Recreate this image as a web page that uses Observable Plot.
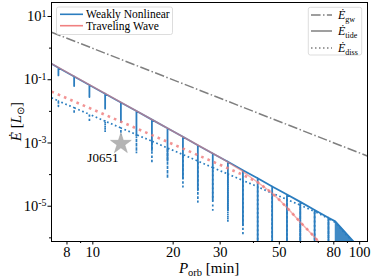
<!DOCTYPE html>
<html>
<head>
<meta charset="utf-8">
<script src="https://cdn.jsdelivr.net/npm/d3@7"></script>
<script src="https://cdn.jsdelivr.net/npm/@observablehq/plot@0.6"></script>
<style>
html,body{margin:0;padding:0;background:#fff;}
#chart svg{display:block;}
</style>
</head>
<body>
<div id="chart"></div>
<script>
// ---------------- data ----------------
const xMajorTicks = [8, 10, 20, 30, 50, 80, 100];
const xMinorTicks = [9, 40, 60, 70, 90];
const yMajorTicks = [1e1, 1e-1, 1e-3, 1e-5];
const yMinorTicks = [1e0, 1e-2, 1e-4, 1e-6];

// resonance periods [min] of the weakly nonlinear model
const resP = [7.43, 8.51, 9.71, 11.12, 12.74, 14.57, 16.65, 19.05, 21.76, 24.75,
              28.15, 32.07, 36.52, 41.48, 47.0, 53.4, 59.9, 67.8, 76.4];
// weakly nonlinear tidal power: value beside each resonance and bottom of its dip
const wnTideTop = [0.238, 0.1265, 0.0682, 0.0362, 0.0191, 0.01023, 5.47e-3, 2.91e-3, 1.567e-3, 8.51e-4,
                   4.66e-4, 2.55e-4, 1.37e-4, 7.67e-5, 4.23e-5, 2.34e-5, 1.37e-5, 7.65e-6, 4.34e-6];
const wnTideDip = [0.137, 0.063, 0.0283, 0.0122, 4.6e-3, 1.75e-3, 5.9e-4, 2.8e-4, 7.7e-5, 3.2e-5,
                   1.55e-5, 7.5e-6, 2.5e-6, 1e-8, 1e-8, 1e-8, 1e-8, 1e-8, 1e-8];
// weakly nonlinear dissipation: value beside each resonance and bottom of its dip
const wnDissTop = [0.0213, 0.0130, 8.05e-3, 4.91e-3, 2.99e-3, 1.84e-3, 1.14e-3, 6.93e-4, 4.30e-4, 2.68e-4,
                   1.67e-4, 1.04e-4, 6.53e-5, 4.13e-5, 2.59e-5, 1.64e-5, 1.08e-5, 6.86e-6, 4.1e-6];
const wnDissDip = [0.0144, 8.5e-3, 4.6e-3, 2.2e-3, 9.1e-4, 4.7e-4, 2.3e-4, 7.7e-5, 4.1e-5, 1.37e-5,
                   6.6e-6, 3.2e-6, 1.2e-6, 1e-8, 1e-8, 1e-8, 1e-8, 1e-8, 1e-8];
// non-resonant points of the weakly nonlinear curves
const wnTideP = [7.0, 81, 95, 98];
const wnTideE = [0.322, 3.32e-6, 7.5e-7, 4e-7];
const wnDissP = [7.0, 81, 88, 95];
const wnDissE = [0.0269, 3.1e-6, 1.4e-6, 7e-7];
// dense band of resonances at long period
const bandP = [81, 88, 95];
const bandTop = [3.32e-6, 1.6e-6, 7.5e-7];
const bandBottom = [1e-8, 1e-8, 1e-8];
// traveling wave model
const twTideP = [7.0, 30, 36, 41.2, 46.3, 50.4, 55.0, 59.9, 65.4, 70.1, 74.5];
const twTideE = [0.322, 3.48e-4, 1.37e-4, 5.94e-5, 2.87e-5, 1.49e-5, 6.97e-6, 3.13e-6, 1.46e-6, 7.7e-7, 4.7e-7];
const twDissP = [7.0, 20, 35.6, 41.2, 46.3, 50.4, 55.0, 59.9, 65.4, 70.1, 74.5];
const twDissE = [0.0422, 9.1e-4, 1.08e-4, 5.94e-5, 2.87e-5, 1.49e-5, 6.97e-6, 3.13e-6, 1.46e-6, 7.7e-7, 4.7e-7];
// gravitational-wave power
const gwP = [7, 107];
const gwE = [3.19, 3.86e-4];
// J0651
const starP = [12.74];
const starE = [9.5e-4];
const starName = ["J0651"];

// ---------------- build tables ----------------
const BLUE = "#2b7dbf", RED = "#f08080", GRAY = "#7f7f7f";
const FONT = "Liberation Serif, serif";

function pts(P, E) { return P.map((p, i) => ({P: p, E: E[i]})); }
function withDips(P, E, tops, dips) {
  const a = P.map((p, i) => ({P: p, E: E[i], o: 0}));
  resP.forEach((p, i) => {
    a.push({P: p, E: tops[i], o: 0}, {P: p, E: dips[i], o: 1}, {P: p, E: tops[i], o: 2});
  });
  a.sort((u, v) => (u.P - v.P) || (u.o - v.o));
  return a;
}
const wnTide = withDips(wnTideP, wnTideE, wnTideTop, wnTideDip);
const wnDiss = withDips(wnDissP, wnDissE, wnDissTop, wnDissDip);
const band = bandP.map((p, i) => ({P: p, y1: bandBottom[i], y2: bandTop[i]}));
const twTide = pts(twTideP, twTideE);
const twDiss = pts(twDissP, twDissE);
const gw = pts(gwP, gwE);
const star = starP.map((p, i) => ({P: p, E: starE[i], name: starName[i]}));

const chart = Plot.plot({
  width: 374, height: 278,
  marginLeft: 51, marginRight: 7, marginTop: 2, marginBottom: 37,
  style: {fontFamily: FONT, background: "white", color: "black", overflow: "visible"},
  x: {type: "log", domain: [7, 107]},
  y: {type: "log", domain: [7.67e-7, 27.7]},
  marks: [
    Plot.areaY(band, {x: "P", y1: "y1", y2: "y2", fill: BLUE, fillOpacity: 0.9, clip: true}),
    Plot.line(wnTide, {x: "P", y: "E", stroke: BLUE, strokeWidth: 1.8, clip: true}),
    Plot.line(wnDiss, {x: "P", y: "E", stroke: BLUE, strokeWidth: 1.7, strokeDasharray: "1.7,2.6", strokeLinecap: "butt", clip: true}),
    Plot.line(twTide, {x: "P", y: "E", stroke: RED, strokeWidth: 1.5, strokeOpacity: 0.62, clip: true}),
    Plot.line(twDiss, {x: "P", y: "E", stroke: RED, strokeWidth: 2.6, strokeOpacity: 0.85, strokeDasharray: "2.6,4.2", strokeLinecap: "butt", clip: true}),
    Plot.line(gw, {x: "P", y: "E", stroke: GRAY, strokeWidth: 1.5, strokeDasharray: "9.6,2.4,1.5,2.4", strokeLinecap: "butt", clip: true}),
    Plot.dot(star, {x: "P", y: "E", symbol: "star", r: 6.5, fill: "#b4b4b4", stroke: "#a8a8a8", strokeWidth: 0.6}),
    Plot.text(star, {x: "P", y: "E", text: "name", dx: -18, dy: 14, fontSize: 13, fill: "black"}),
    Plot.frame({stroke: "black", strokeWidth: 1}),
    Plot.axisX({ticks: xMajorTicks, tickFormat: () => "", tickSize: 3.5, label: null}),
    Plot.axisX({ticks: xMinorTicks, tickFormat: () => "", tickSize: 2, label: null}),
    Plot.text(xMajorTicks, {x: d => d, text: d => String(d), frameAnchor: "bottom", dy: 10.5,
                            lineAnchor: "middle", fontSize: 14.5, fill: "black"}),
    Plot.axisY({ticks: yMajorTicks, tickFormat: d => "10^" + Math.round(Math.log10(d)), tickSize: 3.5, tickPadding: 1.5, fontSize: 14.5, label: null}),
    Plot.axisY({ticks: yMinorTicks, tickFormat: () => "", tickSize: 2, label: null})
  ]
});
document.getElementById("chart").appendChild(chart);

// ---------------- text refinements ----------------
const svg = d3.select(chart);
svg.selectAll('g[aria-label="y-axis tick label"] text').each(function () {
  const m = this.textContent.match(/^10\^(-?\d+)$/);
  if (!m) return;
  const s = d3.select(this);
  s.text("10");
  s.append("tspan").attr("dy", "-0.45em").attr("font-size", "0.68em").text(m[1]);
});

// axis titles
const xl = svg.append("text").attr("x", 209).attr("y", 272.5).attr("text-anchor", "middle")
  .attr("font-family", FONT).attr("font-size", 15).attr("fill", "black");
xl.append("tspan").attr("font-style", "italic").text("P");
xl.append("tspan").attr("font-size", 10.5).attr("dy", 3).text("orb");
xl.append("tspan").attr("dy", -3).text(" [min]");

const yl = svg.append("text").attr("transform", "translate(21,121.5) rotate(-90)").attr("text-anchor", "middle")
  .attr("font-family", FONT).attr("font-size", 15).attr("fill", "black");
yl.append("tspan").attr("font-style", "italic").text("Ė");
yl.append("tspan").text(" [");
yl.append("tspan").attr("font-style", "italic").text("L");
yl.append("tspan").attr("font-size", 10).attr("dy", 3).text("⊙");
yl.append("tspan").attr("dy", -3).text("]");

// legend: models
const lg1 = svg.append("g").attr("font-family", FONT).attr("text-anchor", "start");
lg1.append("rect").attr("x", 56.5).attr("y", 7).attr("width", 116).attr("height", 27.5).attr("rx", 2)
  .attr("fill", "white").attr("fill-opacity", 0.85).attr("stroke", "#d4d4d4").attr("stroke-width", 0.8);
[["Weakly Nonlinear", BLUE, 14.3], ["Traveling Wave", RED, 25.7]].forEach(([t, c, y]) => {
  lg1.append("line").attr("x1", 60).attr("x2", 83).attr("y1", y).attr("y2", y).attr("stroke", c).attr("stroke-width", 1.6);
  lg1.append("text").attr("x", 86).attr("y", y + 3.8).attr("text-anchor", "start").attr("font-size", 11.5).attr("fill", "black").text(t);
});

// legend: line styles
const lg2 = svg.append("g").attr("font-family", FONT).attr("text-anchor", "start");
lg2.append("rect").attr("x", 308.3).attr("y", 7.3).attr("width", 53.4).attr("height", 47.7).attr("rx", 2)
  .attr("fill", "white").attr("fill-opacity", 0.85).attr("stroke", "#d4d4d4").attr("stroke-width", 0.8);
[["gw", "9.6,2.4,1.5,2.4", 15], ["tide", null, 31], ["diss", "1.5,2.5", 48]].forEach(([sub, dash, y]) => {
  const ln = lg2.append("line").attr("x1", 311).attr("x2", 332).attr("y1", y).attr("y2", y)
    .attr("stroke", GRAY).attr("stroke-width", 1.5);
  if (dash) ln.attr("stroke-dasharray", dash);
  const t = lg2.append("text").attr("x", 338).attr("y", y + 4).attr("text-anchor", "start").attr("font-size", 12).attr("fill", "black");
  t.append("tspan").attr("font-style", "italic").text("Ė");
  t.append("tspan").attr("font-size", 8).attr("dy", 2.5).text(sub);
});
</script>
</body>
</html>
